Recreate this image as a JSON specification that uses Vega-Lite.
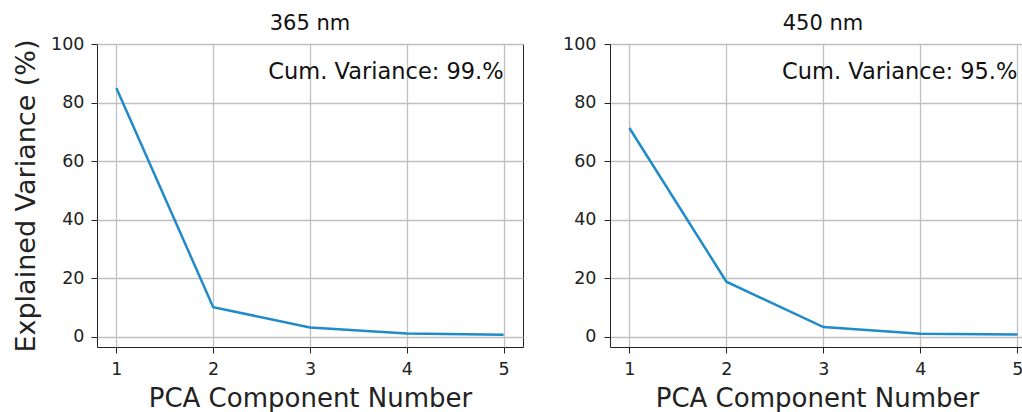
{
  "$schema": "https://vega.github.io/schema/vega-lite/v6.json",
  "padding": {"left": 12, "top": 12, "right": 0, "bottom": 0},
  "background": "white",
  "spacing": 38,
  "config": {
    "font": "DejaVu Sans",
    "axis": {
      "labelFont": "DejaVu Sans",
      "titleFont": "DejaVu Sans",
      "labelFontSize": 17.5,
      "titleFontSize": 26,
      "titleFontWeight": "normal",
      "labelColor": "#222222",
      "titleColor": "#222222",
      "tickColor": "#222222",
      "domainColor": "#222222",
      "tickSize": 6,
      "labelPadding": 8,
      "gridColor": "#c0c0c0",
      "gridWidth": 1.3,
      "gridOpacity": 1
    },
    "title": {"font": "DejaVu Sans", "fontSize": 21, "fontWeight": "normal", "color": "#111111", "offset": 1},
    "view": {"stroke": "#222222", "strokeWidth": 1}
  },
  "datasets": {
    "a": [
      {"pc": 1, "var": 85.0},
      {"pc": 2, "var": 10.1},
      {"pc": 3, "var": 3.2},
      {"pc": 4, "var": 1.1},
      {"pc": 5, "var": 0.7}
    ],
    "b": [
      {"pc": 1, "var": 71.3},
      {"pc": 2, "var": 18.8},
      {"pc": 3, "var": 3.3},
      {"pc": 4, "var": 1.0},
      {"pc": 5, "var": 0.8}
    ],
    "ta": [{"pc": 5, "var": 90.5, "label": "Cum. Variance: 99.%"}],
    "tb": [{"pc": 5, "var": 90.5, "label": "Cum. Variance: 95.%"}]
  },
  "hconcat": [
    {
      "width": 426,
      "height": 303,
      "title": {"text": "365 nm"},
      "layer": [
        {
          "data": {"name": "a"},
          "mark": {"type": "line", "color": "#1f8bc8", "strokeWidth": 2.5, "clip": true},
          "encoding": {
            "x": {"field": "pc", "type": "quantitative",
              "scale": {"domain": [0.8, 5.2], "nice": false, "zero": false},
              "axis": {"values": [1, 2, 3, 4, 5], "format": "d", "title": "PCA Component Number", "titlePadding": 8, "labelPadding": 7, "domain": false}},
            "y": {"field": "var", "type": "quantitative",
              "scale": {"domain": [-3.5, 100], "nice": false, "zero": false},
              "axis": {"values": [0, 20, 40, 60, 80, 100], "title": "Explained Variance (%)", "titleFontSize": 27, "titlePadding": 10, "labelPadding": 7, "domain": false}}
          }
        },
        {
          "data": {"name": "ta"},
          "mark": {"type": "text", "align": "right", "baseline": "middle", "fontSize": 22.5, "color": "#111111", "font": "DejaVu Sans"},
          "encoding": {
            "x": {"field": "pc", "type": "quantitative"},
            "y": {"field": "var", "type": "quantitative"},
            "text": {"field": "label"}
          }
        }
      ]
    },
    {
      "width": 414,
      "height": 303,
      "title": {"text": "450 nm", "dx": 6},
      "view": {"stroke": null},
      "layer": [
        {
          "data": {"name": "b"},
          "mark": {"type": "line", "color": "#1f8bc8", "strokeWidth": 2.5, "clip": true},
          "encoding": {
            "x": {"field": "pc", "type": "quantitative",
              "scale": {"domain": [0.8, 5.068], "nice": false, "zero": false},
              "axis": {"values": [1, 2, 3, 4, 5], "format": "d", "title": "PCA Component Number", "titlePadding": 8, "labelPadding": 7, "domain": true}},
            "y": {"field": "var", "type": "quantitative",
              "scale": {"domain": [-3.5, 100], "nice": false, "zero": false},
              "axis": {"values": [0, 20, 40, 60, 80, 100], "title": null, "domain": true}}
          }
        },
        {
          "data": {"name": "tb"},
          "mark": {"type": "text", "align": "right", "baseline": "middle", "fontSize": 22.5, "color": "#111111", "font": "DejaVu Sans"},
          "encoding": {
            "x": {"field": "pc", "type": "quantitative"},
            "y": {"field": "var", "type": "quantitative"},
            "text": {"field": "label"}
          }
        },
        {
          "mark": {"type": "rule", "color": "#222222", "strokeWidth": 1},
          "encoding": {"y": {"datum": 100}}
        }
      ]
    }
  ]
}
